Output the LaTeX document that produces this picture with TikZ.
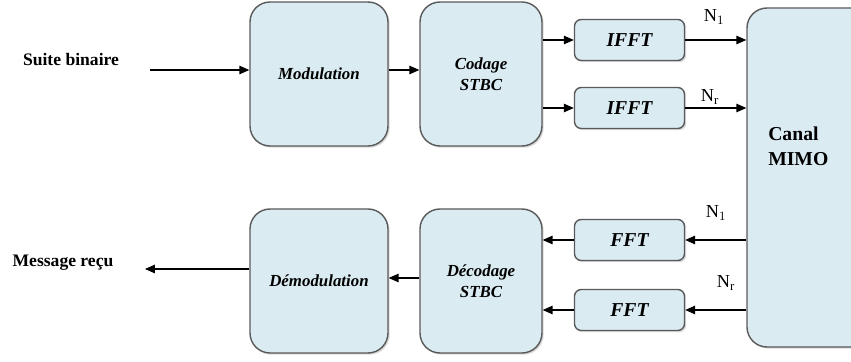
\documentclass[tikz,border=0pt]{standalone}
\usepackage{fontspec}
\setmainfont{Liberation Serif}
\usepackage{tikz}
\usetikzlibrary{arrows.meta}
\usetikzlibrary{shadows}
\usetikzlibrary{math}
\usetikzlibrary{calc}

\definecolor{boxfill}{RGB}{218,235,242}
\definecolor{boxline}{RGB}{90,90,90}

\begin{document}
\begin{tikzpicture}[
  x=0.025cm, y=0.025cm,
  line width=0.8pt,
  blk/.style={draw=boxline, line width=1pt, fill=boxfill, rounded corners=0.5cm,
    minimum width=\bigw cm, minimum height=\bigh cm, align=center,
    drop shadow={shadow xshift=1.2pt, shadow yshift=-1.2pt, opacity=0.3},
    font=\fontsize{12}{15}\selectfont\bfseries\itshape},
  smallblk/.style={blk, rounded corners=0.17cm,
    minimum width=\smallw cm, minimum height=\smallh cm,
    font=\fontsize{14}{16}\selectfont\bfseries\itshape},
  arr/.style={-{Triangle[length=7pt,width=6pt]}},
  lbl/.style={font=\fontsize{12.5}{15}\selectfont\bfseries},
  idx/.style={font=\fontsize{13}{15}\selectfont},
  ]

  \tikzmath{
    \bigw   = 138*0.025; % width of the large blocks
    \codw   = 122*0.025; % width of the STBC blocks
    \bigh   = 144*0.025; % height of the large blocks
    \smallw = 110*0.025; % width of the (I)FFT blocks
    \smallh = 41*0.025;  % height of the (I)FFT blocks
    \canh   = 339*0.025; % height of the channel block
  }

  \clip (0,0) rectangle (851,362);

  % Transmitter
  \node[blk] (mod) at (319,288) {Modulation};
  \node[blk, minimum width=\codw cm] (cod) at (481,288) {Codage\\STBC};
  \node[smallblk] (ifftA) at (629.5,322) {IFFT};
  \node[smallblk] (ifftB) at (629.5,254) {IFFT};

  % Channel
  \node[blk, minimum width=150*0.025 cm, minimum height=\canh cm] (canal) at (822,184.5) {};
  \node[anchor=west, align=left, font=\fontsize{14}{18}\selectfont\bfseries]
    (canaltxt) at (763,216) {Canal\\MIMO};

  % Receiver
  \node[smallblk] (fftA) at (629.5,122) {FFT};
  \node[smallblk] (fftB) at (629.5,52) {FFT};
  \node[blk, minimum width=\codw cm] (decod) at (481,81) {Décodage\\STBC};
  \node[blk] (demod) at (319,81) {Démodulation};

  % Input and output
  \node[lbl] (suite) at (71,302) {Suite binaire};
  \node[lbl] (msg) at (63,99) {Message reçu};
  \coordinate (in) at (150,292);
  \coordinate (out) at (145,93);
  \coordinate (back) at (400,84);

  % Connectors
  \draw[arr] (in) -- (in -| mod.west);
  \draw[arr] (in -| mod.east) -- (in -| cod.west);
  \draw[arr] (ifftA -| cod.east) -- (ifftA.west);
  \draw[arr] (ifftB -| cod.east) -- (ifftB.west);
  \draw[arr] (ifftA.east) -- (ifftA -| canal.west);
  \draw[arr] (ifftB.east) -- (ifftB -| canal.west);
  \draw[arr] (fftA -| canal.west) -- (fftA.east);
  \draw[arr] (fftB -| canal.west) -- (fftB.east);
  \draw[arr] (fftA.west) -- (fftA -| decod.east);
  \draw[arr] (fftB.west) -- (fftB -| decod.east);
  \draw[arr] (back -| decod.west) -- (back -| demod.east);
  \draw[arr] (out -| demod.west) -- (out);

  % Antenna indices
  \node[idx] (na) at (714,345) {N$_1$};
  \node[idx] (nb) at (710,265) {N$_{\mathrm{r}}$};
  \node[idx] (nc) at (716,149) {N$_1$};
  \node[idx] (nd) at (726,79) {N$_{\mathrm{r}}$};

\end{tikzpicture}
\end{document}
